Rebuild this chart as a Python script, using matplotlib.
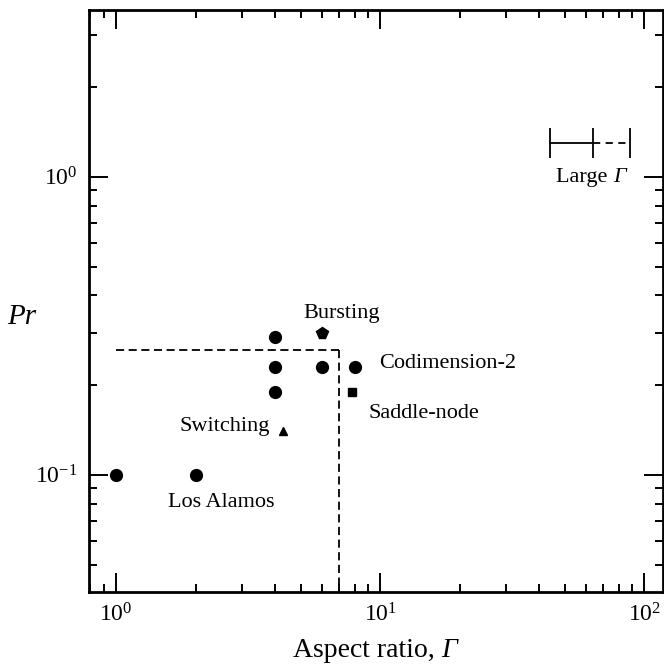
import matplotlib.pyplot as plt

plt.rcParams['font.family'] = ['Liberation Serif', 'DejaVu Serif']
plt.rcParams['mathtext.fontset'] = 'stix'

# experiments, (aspect ratio, Prandtl number)
circle_x = [1.0, 2.0, 4.0, 4.0, 4.0, 6.0, 8.0]
circle_y = [0.10, 0.10, 0.29, 0.23, 0.19, 0.23, 0.23]
bursting = (6.0, 0.30)
switching = (4.3, 0.14)
saddle_node = (7.8, 0.19)

# boundary of the low-Gamma / low-Pr region
box_gamma = 7.0
box_pr = 0.263

# large aspect ratio range: solid part then dashed extension
large_gamma = [44.0, 64.0, 88.5]
large_pr = 1.30

fig = plt.figure(figsize=(6.64, 6.65), dpi=100)
ax = fig.add_axes([0.134, 0.110, 0.865, 0.875])
ax.set_xscale('log')
ax.set_yscale('log')
ax.set_xlim(0.79, 118)
ax.set_ylim(0.0405, 3.63)

ax.plot(circle_x, circle_y, 'o', color='black', markersize=8.5)
ax.plot(*bursting, 'p', color='black', markersize=8.5)
ax.plot(*switching, '^', color='black', markersize=5.5)
ax.plot(*saddle_node, 's', color='black', markersize=5.8)

ax.plot([1.0, box_gamma], [box_pr, box_pr], color='black', lw=1.3, dashes=(4.5, 2.5))
ax.plot([box_gamma, box_gamma], [box_pr, 0.0405], color='black', lw=1.3, dashes=(4.5, 2.5))

ax.plot(large_gamma[:2], [large_pr, large_pr], '-', color='black', lw=1.3)
ax.plot(large_gamma[1:], [large_pr, large_pr], color='black', lw=1.3, dashes=(4, 3))
ax.plot(large_gamma, [large_pr] * 3, '|', color='black', markersize=22, markeredgewidth=1.3)


def with_gamma(t, size):
    # append an italic capital Gamma after a text artist
    return ax.annotate('Γ', xy=(1, 0), xycoords=t, ha='left', va='bottom',
                       fontsize=size, fontstyle='italic')


fs = 16
ax.text(7.12, 0.336, 'Bursting', fontsize=fs, ha='center', va='baseline')
ax.text(9.9, 0.229, 'Codimension-2', fontsize=fs, ha='left', va='baseline')
ax.text(9.0, 0.155, 'Saddle-node', fontsize=fs, ha='left', va='baseline')
ax.text(3.83, 0.1407, 'Switching', fontsize=fs, ha='right', va='baseline')
ax.text(2.51, 0.0782, 'Los Alamos', fontsize=fs, ha='center', va='baseline')
t = ax.text(46.4, 0.962, 'Large ', fontsize=fs, ha='left', va='baseline')
with_gamma(t, fs)

xl = fig.text(0.441, 0.012, 'Aspect ratio, ', fontsize=20, ha='left', va='baseline')
fig.canvas.draw()
with_gamma(xl, 20)
fig.text(0.032, 0.523, 'Pr', fontsize=21, fontstyle='italic', ha='center', va='center')

ax.tick_params(which='both', direction='in', top=True, right=True, labelsize=17)
ax.tick_params(which='major', length=14, width=1.4, pad=8)
ax.tick_params(which='minor', length=6, width=1.4)
for s in ax.spines.values():
    s.set_linewidth(2)

plt.savefig('out.png', dpi=100)
